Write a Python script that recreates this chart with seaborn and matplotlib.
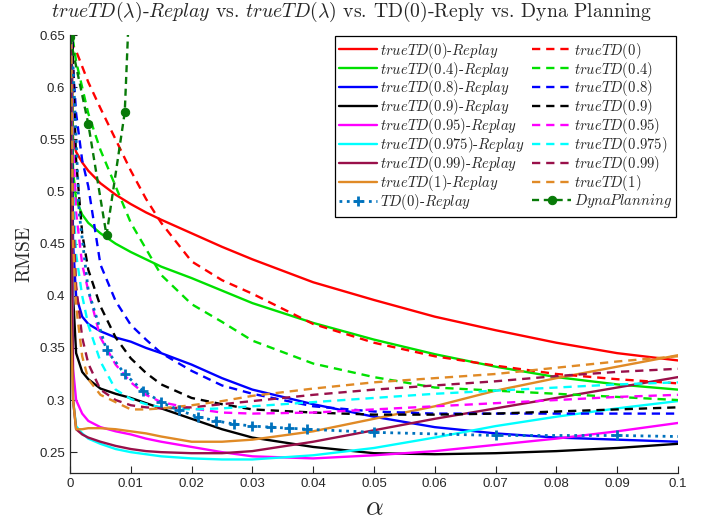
import matplotlib
matplotlib.use('Agg')
import matplotlib.pyplot as plt
import seaborn as sns

alphas = [0, 0.0005, 0.001, 0.002, 0.003, 0.005, 0.0075, 0.01, 0.0125, 0.015,
          0.02, 0.025, 0.03, 0.04, 0.05, 0.06, 0.07, 0.08, 0.09, 0.1]

# trueTD(lambda)-Replay (solid)
rep_0 = [0.75, 0.55, 0.538, 0.528, 0.52, 0.508, 0.497, 0.488, 0.48, 0.473,
         0.46, 0.447, 0.435, 0.413, 0.396, 0.38, 0.367, 0.355, 0.345, 0.338]
rep_04 = [0.75, 0.52, 0.492, 0.478, 0.47, 0.46, 0.45, 0.442, 0.435, 0.428,
          0.417, 0.405, 0.393, 0.374, 0.358, 0.344, 0.332, 0.322, 0.315, 0.31]
rep_08 = [0.75, 0.45, 0.40, 0.38, 0.373, 0.366, 0.36, 0.356, 0.35, 0.345,
          0.334, 0.321, 0.31, 0.296, 0.284, 0.274, 0.268, 0.264, 0.262, 0.26]
rep_09 = [0.75, 0.40, 0.345, 0.327, 0.32, 0.311, 0.306, 0.302, 0.297, 0.292,
          0.282, 0.272, 0.264, 0.255, 0.249, 0.248, 0.249, 0.251, 0.254, 0.258]
rep_095 = [0.75, 0.33, 0.30, 0.287, 0.28, 0.274, 0.27, 0.267, 0.263, 0.26,
           0.255, 0.25, 0.246, 0.244, 0.247, 0.251, 0.257, 0.263, 0.27, 0.278]
rep_0975 = [0.75, 0.30, 0.275, 0.268, 0.263, 0.258, 0.253, 0.25, 0.248, 0.246,
            0.244, 0.243, 0.243, 0.247, 0.254, 0.264, 0.275, 0.284, 0.292, 0.299]
rep_099 = [0.75, 0.30, 0.272, 0.267, 0.264, 0.26, 0.256, 0.253, 0.251, 0.25,
           0.249, 0.249, 0.251, 0.26, 0.271, 0.282, 0.292, 0.302, 0.312, 0.322]
rep_1 = [0.40, 0.30, 0.272, 0.272, 0.273, 0.273, 0.272, 0.27, 0.268, 0.265,
         0.26, 0.26, 0.262, 0.27, 0.282, 0.294, 0.309, 0.321, 0.332, 0.343]

# trueTD(lambda) (dashed)
tr_0 = [0.645, 0.64, 0.635, 0.62, 0.605, 0.58, 0.55, 0.52, 0.493, 0.47,
        0.433, 0.415, 0.402, 0.373, 0.355, 0.342, 0.333, 0.325, 0.32, 0.316]
tr_04 = [0.66, 0.645, 0.625, 0.6, 0.575, 0.54, 0.505, 0.47, 0.445, 0.42,
         0.392, 0.375, 0.357, 0.335, 0.322, 0.312, 0.309, 0.306, 0.303, 0.30]
tr_08 = [0.75, 0.62, 0.575, 0.53, 0.505, 0.43, 0.395, 0.372, 0.358, 0.345,
         0.328, 0.314, 0.306, 0.294, 0.289, 0.287, 0.287, 0.287, 0.287, 0.287]
tr_09 = [0.75, 0.62, 0.53, 0.46, 0.425, 0.39, 0.36, 0.34, 0.326, 0.315,
         0.302, 0.296, 0.291, 0.288, 0.286, 0.286, 0.287, 0.289, 0.291, 0.293]
tr_095 = [0.75, 0.55, 0.48, 0.43, 0.405, 0.36, 0.334, 0.317, 0.305, 0.298,
          0.292, 0.288, 0.287, 0.288, 0.291, 0.294, 0.297, 0.30, 0.303, 0.305]
tr_0975 = [0.75, 0.50, 0.44, 0.40, 0.372, 0.337, 0.31, 0.301, 0.296, 0.293,
           0.291, 0.292, 0.294, 0.298, 0.302, 0.306, 0.309, 0.312, 0.315, 0.317]
tr_099 = [0.75, 0.48, 0.41, 0.36, 0.335, 0.31, 0.30, 0.295, 0.293, 0.292,
          0.293, 0.296, 0.299, 0.305, 0.31, 0.314, 0.318, 0.323, 0.327, 0.33]
tr_1 = [0.75, 0.45, 0.39, 0.342, 0.32, 0.305, 0.298, 0.291, 0.291, 0.292,
        0.295, 0.299, 0.304, 0.311, 0.317, 0.321, 0.325, 0.331, 0.337, 0.342]

# TD(0)-Replay
td0_alpha = [0.0005, 0.0015, 0.003, 0.006, 0.009, 0.012, 0.015, 0.018, 0.021,
             0.024, 0.027, 0.03, 0.033, 0.036, 0.039, 0.05, 0.07, 0.09, 0.1]
td0_rmse = [0.62, 0.48, 0.405, 0.348, 0.325, 0.309, 0.298, 0.29, 0.284,
            0.28, 0.277, 0.275, 0.274, 0.273, 0.272, 0.269, 0.266, 0.266, 0.265]

# Dyna planning
dyna_alpha = [0, 0.003, 0.006, 0.009, 0.012]
dyna_rmse = [0.648, 0.565, 0.458, 0.576, 1.0]

lam_labels = ['0', '0.4', '0.8', '0.9', '0.95', '0.975', '0.99', '1']
replay_series = [rep_0, rep_04, rep_08, rep_09, rep_095, rep_0975, rep_099, rep_1]
true_series = [tr_0, tr_04, tr_08, tr_09, tr_095, tr_0975, tr_099, tr_1]
colors = ['#ff0000', '#00e000', '#0000ff', '#000000', '#ff00ff', '#00ffff',
          '#99104a', '#e08a26']

sns.set_style('white')
plt.rcParams['mathtext.fontset'] = 'cm'

fig = plt.figure(figsize=(7.11, 5.23), dpi=100)
ax = fig.add_axes([0.0985, 0.0956, 0.855, 0.837])

lw = 1.7
dash = (0, (3.5, 2.5))
rep_handles, true_handles = [], []
for lab, vals, c in zip(lam_labels, replay_series, colors):
    sns.lineplot(x=alphas, y=vals, color=c, lw=lw, ax=ax, errorbar=None,
                 label=r'$trueTD(%s)$-$Replay$' % lab)
    rep_handles.append(ax.lines[-1])
for lab, vals, c in zip(lam_labels, true_series, colors):
    sns.lineplot(x=alphas, y=vals, color=c, lw=lw, ls=dash, ax=ax, errorbar=None,
                 label=r'$trueTD(%s)$' % lab)
    true_handles.append(ax.lines[-1])

sns.lineplot(x=td0_alpha, y=td0_rmse, color='#0072bd', lw=2, ls=':', marker='+',
             markersize=7, markeredgewidth=2, markeredgecolor='#0072bd',
             markevery=list(range(3, 18)), ax=ax, errorbar=None,
             label=r'$TD(0)$-$Replay$')
rep_handles.append(ax.lines[-1])
sns.lineplot(x=dyna_alpha, y=dyna_rmse, color='#087a08', lw=lw, ls=(0, (3, 2)),
             marker='o', markersize=6, markeredgecolor='#087a08', ax=ax,
             errorbar=None, label=r'$DynaPlanning$')
true_handles.append(ax.lines[-1])

ax.set_xlim(0, 0.1)
ax.set_ylim(0.23, 0.65)
ax.set_xticks([i / 100 for i in range(11)])
ax.set_xticklabels(['0'] + ['0.%02d' % i for i in range(1, 10)] + ['0.1'])
ax.set_yticks([0.25, 0.3, 0.35, 0.4, 0.45, 0.5, 0.55, 0.6, 0.65])
ax.set_yticklabels(['0.25', '0.3', '0.35', '0.4', '0.45', '0.5', '0.55', '0.6', '0.65'])
ax.tick_params(direction='in', length=5, width=0.8, labelsize=9.5,
               labelcolor='#262626', left=True, bottom=True)
for t in ax.get_xticklabels() + ax.get_yticklabels():
    t.set_fontfamily('Liberation Sans')
sns.despine(ax=ax)
for s in ['left', 'bottom']:
    ax.spines[s].set_color('#262626')
    ax.spines[s].set_linewidth(0.9)

fig.text(0.494, 0.977,
         r'$trueTD(\lambda)$-$Replay$ vs. $trueTD(\lambda)$ vs. TD(0)-Reply vs. Dyna Planning',
         fontfamily='cmr10', fontsize=14.2, ha='center', va='center')
ax.set_ylabel('RMSE', fontfamily='cmr10', fontsize=14)
ax.set_xlabel(r'$\alpha$', fontsize=20, labelpad=2)

leg = ax.legend(rep_handles + true_handles,
                [h.get_label() for h in rep_handles + true_handles],
                ncol=2, loc='upper right', bbox_to_anchor=(0.997, 0.998),
                prop={'family': 'cmr10', 'size': 10.6}, frameon=True,
                fancybox=False, edgecolor='black', framealpha=1,
                handlelength=2.6, labelspacing=-0.07, columnspacing=0.5,
                handletextpad=0.2, borderpad=0.3, borderaxespad=0)
leg.get_frame().set_linewidth(0.9)

fig.savefig('out.png', dpi=100)
